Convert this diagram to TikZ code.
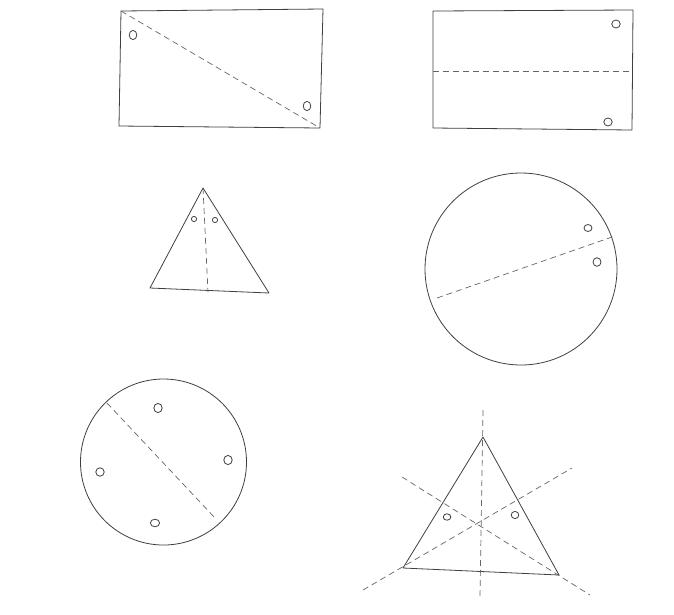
\documentclass[tikz,border=0pt]{standalone}
\begin{document}
\begin{tikzpicture}[x=1pt,y=-1pt,
  pen/.style={draw=black!75, line width=0.8pt, line join=round},
  fold/.style={draw=black!60, line width=0.7pt, dash pattern=on 6pt off 4pt},
  hole/.style={draw=black!75, line width=0.8pt}]
\fill[white] (0,0) rectangle (674,614);
\useasboundingbox (0,0) rectangle (674,614);
% --- top-left rectangle
\coordinate (a1) at (121,11); \coordinate (a2) at (323,9);
\coordinate (a3) at (320,128); \coordinate (a4) at (119,126);
\draw[pen] (a1) -- (a2) -- (a3) -- (a4) -- cycle;
\draw[fold] (a1) -- (a3);
\draw[hole] (133,35) ellipse[x radius=3.8, y radius=4.6];
\draw[hole] (307,106) ellipse[x radius=3.8, y radius=4.6];
% --- top-right rectangle
\coordinate (b1) at (433,11); \coordinate (b2) at (633,10);
\coordinate (b3) at (632,130); \coordinate (b4) at (433,128);
\draw[pen] (b1) -- (b2) -- (b3) -- (b4) -- cycle;
\coordinate (bl) at (433,71); \coordinate (br) at (632,71);
\draw[fold] (bl) -- (br);
\draw[hole] (616,24) ellipse[x radius=4.2, y radius=4];
\draw[hole] (608,122) ellipse[x radius=4.2, y radius=4];
% --- small triangle
\coordinate (t1) at (203,188); \coordinate (t2) at (269,293);
\coordinate (t3) at (150,288); \coordinate (tm) at (208,292);
\draw[pen] (t1) -- (t2) -- (t3) -- cycle;
\draw[fold] (t1) -- (tm);
\draw[hole] (194,219) circle[radius=2.6];
\draw[hole] (215,220) circle[radius=2.6];
% --- big circle right
\draw[pen] (521,269) circle[radius=96];
\coordinate (c1) at (437,298); \coordinate (c2) at (612,237);
\draw[fold] (c1) -- (c2);
\draw[hole] (588,228) ellipse[x radius=4, y radius=3.5];
\draw[hole] (597,262) ellipse[x radius=4, y radius=4.3];
% --- circle lower left
\draw[pen] (163.5,462) circle[radius=83];
\coordinate (d1) at (107,403); \coordinate (d2) at (215,518);
\draw[fold] (d1) -- (d2);
\draw[hole] (158,408) ellipse[x radius=4.2, y radius=4.6];
\draw[hole] (228,460) ellipse[x radius=4.2, y radius=4.6];
\draw[hole] (100,472) ellipse[x radius=4.2, y radius=4.2];
\draw[hole] (155,523) ellipse[x radius=4.6, y radius=3.8];
% --- triangle lower right
\coordinate (e1) at (483,437); \coordinate (e2) at (559,575);
\coordinate (e3) at (403,568);
\draw[pen] (e1) -- (e2) -- (e3) -- cycle;
\coordinate (v1) at (483,410); \coordinate (v2) at (480,597);
\coordinate (p1) at (402,477); \coordinate (p2) at (590,595);
\coordinate (q1) at (363,590); \coordinate (q2) at (572,468);
\draw[fold] (v1) -- (v2);
\draw[fold] (p1) -- (p2);
\draw[fold] (q1) -- (q2);
\draw[hole] (447,517) ellipse[x radius=3.8, y radius=3.2];
\draw[hole] (515,515) ellipse[x radius=3.8, y radius=3.6];
\end{tikzpicture}
\end{document}
